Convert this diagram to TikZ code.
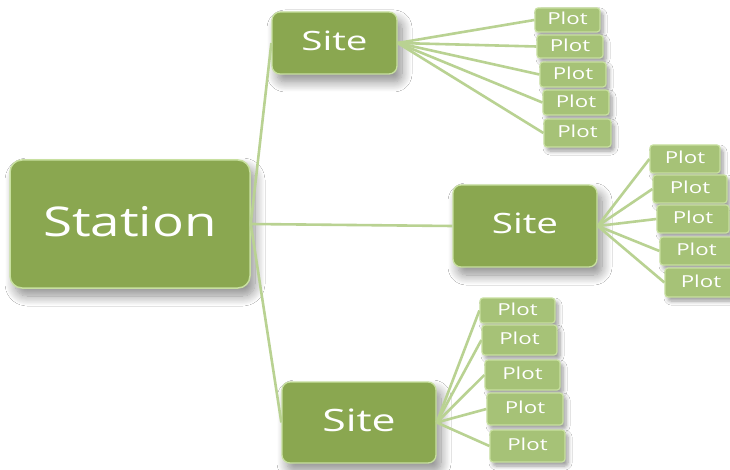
\documentclass[tikz,border=0pt]{standalone}
\usepackage{graphicx}
\usepackage{fontspec}
\setmainfont{Open Sans}
\usetikzlibrary{shadows.blur}
\definecolor{boxg}{HTML}{8AA750}
\definecolor{plotg}{HTML}{A6C277}
\definecolor{lineg}{HTML}{B9D292}
\definecolor{edgeg}{HTML}{C8E0A0}
\newcommand{\widetxt}[3]{\raisebox{#2}{\scalebox{#1}[1]{#3}}}
\begin{document}
\begin{tikzpicture}[x=1pt,y=-1pt,
  shad/.style={blur shadow={shadow xshift=5pt, shadow yshift=-8pt, shadow blur radius=10pt, shadow blur steps=12, shadow opacity=45}},
  stationbox/.style={shad, rectangle, draw=edgeg, line width=1.5pt, fill=boxg, rounded corners=12pt, text=white, inner sep=0pt, font=\fontsize{41}{41}\selectfont},
  sitebox/.style={shad, rectangle, draw=edgeg, line width=1.3pt, fill=boxg, rounded corners=8pt, text=white, inner sep=0pt},
  plotbox/.style={blur shadow={shadow xshift=3pt, shadow yshift=-4pt, shadow blur radius=4pt, shadow blur steps=6, shadow opacity=40}, rectangle, draw=edgeg, line width=1.2pt, fill=plotg, rounded corners=3pt, text=white, inner sep=0pt, font=\fontsize{16.5}{16.5}\selectfont},
  conn/.style={draw=lineg, line width=2.6pt}]
\useasboundingbox (0,0) rectangle (730,470);
\fill[white] (0,0) rectangle (730,470);
% main nodes
\node[stationbox, minimum width=240pt, minimum height=128pt] (station) at (130,224) {\widetxt{1.29}{6pt}{Station}};
\node[sitebox, minimum width=125pt, minimum height=62pt, font=\fontsize{26.6}{26.6}\selectfont] (site1) at (334.5,43) {\widetxt{1.45}{4pt}{Site}};
\node[sitebox, minimum width=144pt, minimum height=82pt, font=\fontsize{28}{28}\selectfont] (site2) at (525,226) {\widetxt{1.38}{5pt}{Site}};
\node[sitebox, minimum width=154pt, minimum height=81pt, font=\fontsize{30.8}{30.8}\selectfont] (site3) at (359,422.5) {\widetxt{1.39}{5pt}{Site}};
% plots of site 1
\node[plotbox, minimum width=65pt, minimum height=24pt] (p11) at (567.5,20) {\widetxt{1.35}{3pt}{Plot}};
\node[plotbox, minimum width=66pt, minimum height=23pt] (p12) at (570,46.5) {\widetxt{1.35}{3pt}{Plot}};
\node[plotbox, minimum width=66pt, minimum height=25pt] (p13) at (573,74.5) {\widetxt{1.35}{3pt}{Plot}};
\node[plotbox, minimum width=66pt, minimum height=25pt] (p14) at (576,102.5) {\widetxt{1.35}{3pt}{Plot}};
\node[plotbox, minimum width=67pt, minimum height=28pt] (p15) at (577.5,133) {\widetxt{1.35}{3pt}{Plot}};
% plots of site 2
\node[plotbox, minimum width=70pt, minimum height=28pt] (p21) at (685,159) {\widetxt{1.35}{3pt}{Plot}};
\node[plotbox, minimum width=74pt, minimum height=28pt] (p22) at (690,189) {\widetxt{1.35}{3pt}{Plot}};
\node[plotbox, minimum width=72pt, minimum height=28pt] (p23) at (693,219) {\widetxt{1.35}{3pt}{Plot}};
\node[plotbox, minimum width=73pt, minimum height=28pt] (p24) at (696.5,251) {\widetxt{1.35}{3pt}{Plot}};
\node[plotbox, minimum width=72pt, minimum height=29pt] (p25) at (701,282.5) {\widetxt{1.35}{3pt}{Plot}};
% plots of site 3
\node[plotbox, minimum width=75pt, minimum height=25pt] (p31) at (517.5,310.5) {\widetxt{1.35}{3pt}{Plot}};
\node[plotbox, minimum width=75pt, minimum height=30pt] (p32) at (519.5,340) {\widetxt{1.35}{3pt}{Plot}};
\node[plotbox, minimum width=75pt, minimum height=30pt] (p33) at (522.5,375) {\widetxt{1.35}{3pt}{Plot}};
\node[plotbox, minimum width=76pt, minimum height=32pt] (p34) at (525,409) {\widetxt{1.35}{3pt}{Plot}};
\node[plotbox, minimum width=75pt, minimum height=32pt] (p35) at (527.5,446) {\widetxt{1.35}{3pt}{Plot}};
% connectors
\draw[conn] (station.east) -- (site1.west);
\draw[conn] (station.east) -- (site2.west);
\draw[conn] (station.east) -- (site3.west);
\foreach \i in {1,...,5}{
  \draw[conn] (site1.east) -- (p1\i.west);
  \draw[conn] (site2.east) -- (p2\i.west);
  \draw[conn] (site3.east) -- (p3\i.west);
}
\end{tikzpicture}
\end{document}
